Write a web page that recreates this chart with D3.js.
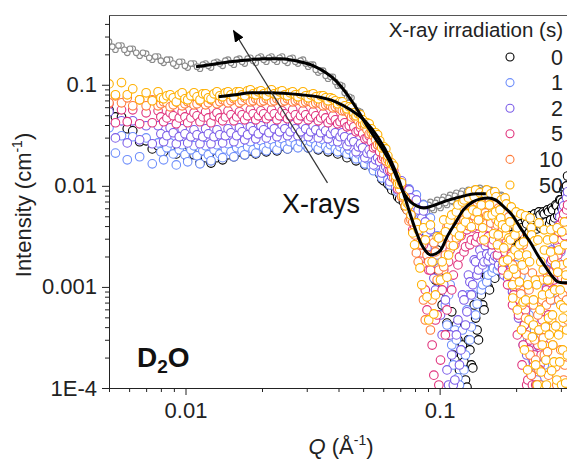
<!DOCTYPE html>
<html>
<head>
<meta charset="utf-8">
<script src="https://cdnjs.cloudflare.com/ajax/libs/d3/7.8.5/d3.min.js"></script>
<style>
  html, body { margin: 0; padding: 0; background: #fff; }
  svg { display: block; font-family: "Liberation Sans", Arial, sans-serif; }
</style>
</head>
<body>
<svg id="chart" width="567" height="461"></svg>
<script>
(function () {
  'use strict';

  // scattering vector Q (1/A): main grid, in-between grid, extra high-Q grid
  var q = [
    0.0050, 0.0053, 0.0056, 0.0059, 0.0062, 0.0066, 0.0070, 0.0074, 0.0078, 0.0082,
    0.0087, 0.0092, 0.0097, 0.0102, 0.0108, 0.0114, 0.0120, 0.0126, 0.0133, 0.0140,
    0.0147, 0.0155, 0.0163, 0.0171, 0.0180, 0.0189, 0.0198, 0.0208, 0.0218, 0.0229,
    0.0240, 0.0252, 0.0264, 0.0277, 0.0290, 0.0304, 0.0318, 0.0333, 0.0348, 0.0364,
    0.0380, 0.0397, 0.0414, 0.0432, 0.0450, 0.0469, 0.0488, 0.0508, 0.0528, 0.0549,
    0.0570, 0.0592, 0.0614, 0.0637, 0.0660, 0.0684, 0.0708, 0.0733, 0.0758, 0.0784,
    0.0810, 0.0837, 0.0864, 0.0892, 0.0920, 0.0949, 0.0978, 0.1008, 0.1038, 0.1069,
    0.1100, 0.1132, 0.1164, 0.1197, 0.1230, 0.1264, 0.1298, 0.1333, 0.1368, 0.1404,
    0.1440, 0.1477, 0.1514, 0.1552, 0.1590, 0.1629, 0.1668, 0.1708, 0.1748, 0.1789,
    0.1830, 0.1872, 0.1914, 0.1957, 0.2000, 0.2044, 0.2088, 0.2133, 0.2178, 0.2224,
    0.2270, 0.2317, 0.2364, 0.2412, 0.2460, 0.2509, 0.2558, 0.2608, 0.2658, 0.2709,
    0.2760, 0.2812, 0.2864, 0.2917, 0.2970, 0.3024, 0.3078, 0.3133, 0.3188
  ];
  var qMid = [
    0.00515, 0.00545, 0.00575, 0.00605, 0.0064, 0.0068, 0.0072, 0.0076, 0.0080, 0.00845,
    0.00895, 0.00945, 0.00995, 0.0105, 0.0111, 0.0117, 0.0123, 0.01295, 0.01365, 0.01435,
    0.0151, 0.0159, 0.0167, 0.01755, 0.01845, 0.01935, 0.0203, 0.0213, 0.02235, 0.02345,
    0.0246, 0.0258, 0.02705, 0.02835, 0.0297, 0.0311, 0.03255, 0.03405, 0.0356, 0.0372,
    0.03885, 0.04055, 0.0423, 0.0441, 0.04595, 0.04785, 0.0498, 0.0518, 0.05385, 0.05595,
    0.0581, 0.0603, 0.06255, 0.06485, 0.0672, 0.0696, 0.07205, 0.07455, 0.0771, 0.0797,
    0.08235, 0.08505, 0.0878, 0.0906, 0.09345, 0.09635, 0.0993, 0.1023, 0.10535, 0.10845,
    0.1116, 0.1148, 0.11805, 0.12135, 0.1247, 0.1281, 0.13155, 0.13505, 0.1386, 0.1422,
    0.14585, 0.14955, 0.1533, 0.1571, 0.16095, 0.16485, 0.1688, 0.1728, 0.17685, 0.18095,
    0.1851, 0.1893, 0.19355, 0.19785, 0.2022, 0.2066, 0.21105, 0.21555, 0.2201, 0.2247,
    0.22935, 0.23405, 0.2388, 0.2436, 0.24845, 0.25335, 0.2583, 0.2633, 0.26835, 0.27345,
    0.2786, 0.2838, 0.28905, 0.29435, 0.2997, 0.3051, 0.31055, 0.31605
  ];
  var qHi = [
    0.166, 0.170, 0.174, 0.178, 0.182, 0.186, 0.190, 0.194, 0.198, 0.202,
    0.206, 0.210, 0.214, 0.218, 0.222, 0.226, 0.230, 0.234, 0.238, 0.242,
    0.246, 0.250, 0.254, 0.258, 0.262, 0.266, 0.270, 0.274, 0.278, 0.282,
    0.286, 0.290, 0.294, 0.298, 0.302, 0.306, 0.310, 0.314, 0.318
  ];

  // upper grey data set (not in legend)
  var iGray = [
    0.267, 0.222, 0.244, 0.207, 0.227, 0.194, 0.203, 0.177, 0.190, 0.165,
    0.177, 0.154, 0.169, 0.148, 0.162, 0.144, 0.162, 0.148, 0.169, 0.154,
    0.177, 0.158, 0.181, 0.162, 0.185, 0.165, 0.190, 0.169, 0.190, 0.169,
    0.190, 0.165, 0.185, 0.162, 0.177, 0.151, 0.158, 0.132, 0.138, 0.115,
    0.120, 0.0978, 0.0978, 0.0743, 0.0743, 0.0552, 0.0540, 0.0393, 0.0384, 0.0292,
    0.0298, 0.0222, 0.0217, 0.0161, 0.0147, 0.00997, 0.00997, 0.00710, 0.00778, 0.00591,
    0.00710, 0.00552, 0.00678, 0.00552, 0.00694, 0.00578, 0.00726, 0.00604, 0.00778, 0.00648,
    0.00814, 0.00694, 0.00852, 0.00726, 0.00892, 0.00743, 0.00912, 0.00778, 0.00933, 0.00796,
    0.00954, 0.00796, 0.00933, 0.00778, 0.00912, 0.00760, 0.00873, 0.00710, 0.00814, 0.00648, 0.00726
  ];
  var iGrayMid = [
    0.238, 0.244, 0.222, 0.227, 0.207, 0.207, 0.185, 0.190, 0.173, 0.177,
    0.162, 0.169, 0.154, 0.162, 0.151, 0.158, 0.154, 0.165, 0.162, 0.173,
    0.165, 0.177, 0.169, 0.181, 0.173, 0.185, 0.177, 0.185, 0.177, 0.185,
    0.173, 0.181, 0.169, 0.173, 0.162, 0.158, 0.141, 0.138, 0.123, 0.120,
    0.107, 0.100, 0.0833, 0.0760, 0.0619, 0.0552, 0.0450, 0.0393, 0.0327, 0.0298,
    0.0249, 0.0222, 0.0181, 0.0157, 0.0120, 0.00997, 0.00814, 0.00760, 0.00648, 0.00678,
    0.00591, 0.00648, 0.00591, 0.00648, 0.00604, 0.00678, 0.00634, 0.00726, 0.00678, 0.00760,
    0.00710, 0.00796, 0.00743, 0.00833, 0.00760, 0.00873, 0.00796, 0.00892, 0.00814, 0.00912,
    0.00833, 0.00912, 0.00814, 0.00892, 0.00796, 0.00852, 0.00743, 0.00796, 0.00694, 0.00710
  ];

  // irradiation 0 s
  var i0 = [
    0.0565, 0.0481, 0.0481, 0.0367, 0.0350, 0.0273, 0.0279, 0.0232, 0.0249, 0.0217,
    0.0238, 0.0207, 0.0222, 0.0190, 0.0203, 0.0168, 0.0190, 0.0168, 0.0190, 0.0181,
    0.0203, 0.0194, 0.0217, 0.0203, 0.0222, 0.0207, 0.0232, 0.0217, 0.0243, 0.0222,
    0.0249, 0.0232, 0.0261, 0.0243, 0.0266, 0.0238, 0.0255, 0.0227, 0.0243, 0.0217,
    0.0232, 0.0207, 0.0217, 0.0190, 0.0203, 0.0177, 0.0185, 0.0161, 0.0168, 0.0144,
    0.0150, 0.0117, 0.0120, 0.00997, 0.00997, 0.00778, 0.00852, 0.00619, 0.00694, 0.00471,
    0.00552, 0.00342, 0.00430, 0.00227, 0.00327, 0.00150, 0.00232, 0.000934, 0.00165, 0.000439,
    0.000934, 0.000212, 0.000420, 0.000151, 0.000266, 0.000120, 0.000299, 0.000169, 0.000663, 0.000375,
    0.00117, 0.000663, 0.00147, 0.00100, 0.00193, 0.00134, 0.00222, 0.00158, 0.00249, 0.00177,
    0.00285, 0.00202, 0.00327, 0.00232, 0.00375, 0.00261, 0.00420, 0.00292, 0.00460, 0.00327,
    0.00505, 0.00359, 0.00528, 0.00375, 0.00552, 0.00384, 0.00552, 0.00402, 0.00578, 0.00420,
    0.00604, 0.00440, 0.00648, 0.00505, 0.00726, 0.00604, 0.00912, 0.00833, 0.0125
  ];
  var i0Mid = [
    null, null, null, null, null, null, null, null, null, null,
    null, null, null, null, null, null, null, null, null, null,
    null, null, null, null, null, null, null, null, null, null,
    null, null, null, null, null, null, null, null, null, null,
    null, null, null, null, null, null, null, null, null, null,
    0.0131, 0.0112, 0.0104, 0.00912, 0.00873, 0.00743, 0.00694, 0.00578, 0.00552, 0.00411,
    0.00440, 0.00292, 0.00305, 0.00185, 0.00207, 0.00117, 0.00140, 0.000663, 0.000893, 0.000335,
    0.000567, 0.000189, 0.000299, 0.000107, 0.000181, 0.000102, 0.000238, 0.000158, 0.000492, 0.000299,
    0.000833, 0.000592, 0.00128, 0.000934, 0.00169, 0.00122, 0.00202, 0.00147, 0.00222, 0.00177,
    0.00255, 0.00202, 0.00292, 0.00243, 0.00335, 0.00267, 0.00384, 0.00305, 0.00420, 0.00342,
    0.00460, 0.00384, 0.00482, 0.00402, 0.00516, 0.00411, 0.00528, 0.00440, 0.00552, 0.00460,
    0.00578, 0.00482, 0.00634, 0.00552, 0.00726, 0.00694, 0.00954, 0.00997
  ];

  // 1 s
  var i1 = [
    0.0375, 0.0211, 0.0313, 0.0181, 0.0306, 0.0194, 0.0298, 0.0165, 0.0266, 0.0181,
    0.0266, 0.0161, 0.0255, 0.0173, 0.0249, 0.0165, 0.0249, 0.0177, 0.0255, 0.0190,
    0.0261, 0.0194, 0.0261, 0.0203, 0.0273, 0.0211, 0.0279, 0.0222, 0.0285, 0.0227,
    0.0292, 0.0232, 0.0298, 0.0238, 0.0298, 0.0238, 0.0292, 0.0232, 0.0285, 0.0227,
    0.0273, 0.0217, 0.0261, 0.0207, 0.0243, 0.0185, 0.0217, 0.0165, 0.0190, 0.0141,
    0.0161, 0.0120, 0.0134, 0.0102, 0.0117, 0.00873, 0.0104, 0.00760, 0.00933, 0.00619,
    0.00814, 0.00482, 0.00648, 0.00342, 0.00482, 0.00217, 0.00320, 0.00117, 0.00185, 0.000420,
    0.00105, 0.000169, 0.000299, 0.000107, 0.000375, 0.000212, 0.000833, 0.000402, 0.00125, 0.000678,
    0.00165, 0.00105, 0.00193, 0.00131, 0.00217, 0.00154, 0.00227, 0.00161, 0.00237, 0.00154,
    0.00222, 0.00128, 0.00202, 0.00105, 0.00165, 0.000777, 0.00128, 0.000492, 0.000934, 0.000299,
    0.000663, 0.000189, 0.000375, 0.000107, 0.000228, 0.000107, 0.000375, 0.000212, 0.000743, 0.000471,
    0.00131, 0.000934, 0.00243, 0.00177, 0.00367, 0.00279, 0.00505, 0.00393, 0.00694
  ];
  var i1Mid = [
    null, null, null, null, null, null, null, null, 0.0217, 0.0238,
    0.0207, 0.0227, 0.0203, 0.0227, 0.0198, 0.0222, 0.0203, 0.0227, 0.0207, 0.0232,
    0.0217, 0.0238, 0.0222, 0.0243, 0.0227, 0.0255, 0.0238, 0.0261, 0.0243, 0.0266,
    0.0249, 0.0273, 0.0255, 0.0273, 0.0255, 0.0273, 0.0249, 0.0266, 0.0243, 0.0255,
    0.0232, 0.0243, 0.0222, 0.0227, 0.0203, 0.0207, 0.0181, 0.0185, 0.0157, 0.0157,
    0.0134, 0.0134, 0.0115, 0.0115, 0.00975, 0.00997, 0.00852, 0.00873, 0.00726, 0.00743,
    0.00604, 0.00604, 0.00460, 0.00440, 0.00232, 0.00292, 0.00147, 0.00177, 0.000663, 0.000833,
    0.000266, 0.000375, 0.000126, 0.000238, 0.000151, 0.000592, 0.000299, 0.000833, 0.000528, 0.00112,
    0.000934, 0.00154, 0.00112, 0.00177, 0.00140, 0.00193, 0.00147, 0.00202, 0.00169, 0.00193,
    0.00147, 0.00177, 0.00117, 0.00140, 0.000893, 0.00105, 0.000592, 0.000710, 0.000375, 0.000528,
    0.000238, 0.000313, 0.000134, 0.000181, 0.000102, 0.000266, 0.000169, 0.000450, 0.000335, 0.000893,
    0.000743, 0.00177, 0.00140, 0.00279, 0.00222, 0.00440, 0.00351, 0.00604
  ];

  // 2 s
  var i2 = [
    0.0540, 0.0298, 0.0440, 0.0266, 0.0440, 0.0285, 0.0393, 0.0261, 0.0393, 0.0273,
    0.0375, 0.0261, 0.0367, 0.0266, 0.0358, 0.0261, 0.0367, 0.0261, 0.0358, 0.0266,
    0.0367, 0.0273, 0.0375, 0.0285, 0.0384, 0.0292, 0.0393, 0.0298, 0.0402, 0.0306,
    0.0402, 0.0313, 0.0402, 0.0313, 0.0402, 0.0306, 0.0393, 0.0298, 0.0384, 0.0292,
    0.0367, 0.0273, 0.0335, 0.0249, 0.0298, 0.0217, 0.0261, 0.0190, 0.0227, 0.0161,
    0.0190, 0.0134, 0.0154, 0.0110, 0.0128, 0.00912, 0.0112, 0.00743, 0.00912, 0.00565,
    0.00726, 0.00411, 0.00565, 0.00243, 0.00367, 0.00122, 0.00207, 0.000528, 0.00105, 0.000151,
    0.000335, 0.000107, 0.000335, 0.000169, 0.000833, 0.000420, 0.00131, 0.000833, 0.00185, 0.00131,
    0.00232, 0.00165, 0.00255, 0.00181, 0.00267, 0.00185, 0.00261, 0.00165, 0.00232, 0.00131,
    0.00202, 0.00105, 0.00154, 0.000694, 0.00122, 0.000492, 0.000777, 0.000266, 0.000528, 0.000151,
    0.000299, 0.000107, 0.000212, 0.000120, 0.000420, 0.000238, 0.000743, 0.000471, 0.00147, 0.00100,
    0.00232, 0.00177, 0.00367, 0.00267, 0.00493, 0.00384, 0.00634, 0.00505, 0.00873
  ];
  var i2Mid = [
    null, null, null, null, null, null, null, null, 0.0327, 0.0313,
    0.0335, 0.0306, 0.0327, 0.0306, 0.0320, 0.0306, 0.0327, 0.0306, 0.0320, 0.0313,
    0.0335, 0.0313, 0.0342, 0.0320, 0.0350, 0.0327, 0.0358, 0.0335, 0.0367, 0.0342,
    0.0367, 0.0342, 0.0367, 0.0342, 0.0367, 0.0342, 0.0358, 0.0335, 0.0350, 0.0327,
    0.0335, 0.0306, 0.0306, 0.0273, 0.0273, 0.0243, 0.0238, 0.0211, 0.0207, 0.0181,
    0.0173, 0.0150, 0.0141, 0.0123, 0.0115, 0.00997, 0.00954, 0.00833, 0.00760, 0.00648,
    0.00578, 0.00482, 0.00440, 0.00207, 0.00292, 0.000934, 0.00154, 0.000335, 0.000743, 0.000107,
    0.000212, 0.000120, 0.000471, 0.000238, 0.000743, 0.000567, 0.00112, 0.00105, 0.00177, 0.00147,
    0.00202, 0.00177, 0.00212, 0.00202, 0.00222, 0.00202, 0.00193, 0.00193, 0.00161, 0.00177,
    0.00122, 0.00131, 0.000893, 0.000934, 0.000592, 0.000663, 0.000375, 0.000420, 0.000212, 0.000266,
    0.000126, 0.000169, 0.000102, 0.000266, 0.000169, 0.000528, 0.000375, 0.000977, 0.000833, 0.00177,
    0.00140, 0.00279, 0.00222, 0.00411, 0.00320, 0.00578, 0.00440, 0.00760
  ];

  // 5 s
  var i5 = [
    0.0648, 0.0421, 0.0565, 0.0431, 0.0565, 0.0411, 0.0528, 0.0421, 0.0552, 0.0431,
    0.0528, 0.0411, 0.0540, 0.0421, 0.0528, 0.0431, 0.0540, 0.0421, 0.0528, 0.0440,
    0.0552, 0.0440, 0.0540, 0.0450, 0.0565, 0.0450, 0.0552, 0.0461, 0.0565, 0.0450,
    0.0552, 0.0461, 0.0565, 0.0450, 0.0552, 0.0450, 0.0540, 0.0440, 0.0516, 0.0421,
    0.0493, 0.0411, 0.0471, 0.0384, 0.0431, 0.0342, 0.0375, 0.0292, 0.0313, 0.0238,
    0.0255, 0.0185, 0.0190, 0.0141, 0.0141, 0.00933, 0.0102, 0.00634, 0.00663, 0.00367,
    0.00420, 0.00185, 0.00261, 0.000592, 0.00147, 0.000134, 0.000528, 0.000189, 0.00147, 0.000592,
    0.00232, 0.00131, 0.00292, 0.00198, 0.00351, 0.00249, 0.00402, 0.00292, 0.00430, 0.00313,
    0.00450, 0.00327, 0.00450, 0.00313, 0.00430, 0.00292, 0.00384, 0.00243, 0.00351, 0.00185,
    0.00279, 0.00137, 0.00212, 0.000833, 0.00147, 0.000528, 0.000934, 0.000266, 0.000592, 0.000120,
    0.000299, 0.000107, 0.000212, 0.000107, 0.000375, 0.000212, 0.000743, 0.000375, 0.00131, 0.000743,
    0.00185, 0.00117, 0.00292, 0.00207, 0.00411, 0.00292, 0.00528, 0.00367, 0.00648
  ];
  var i5Mid = [
    null, null, null, null, null, null, null, null, 0.0481, 0.0470,
    0.0493, 0.0470, 0.0481, 0.0470, 0.0493, 0.0481, 0.0470, 0.0493, 0.0470, 0.0481,
    0.0504, 0.0481, 0.0504, 0.0493, 0.0516, 0.0493, 0.0516, 0.0493, 0.0516, 0.0493,
    0.0516, 0.0493, 0.0504, 0.0493, 0.0504, 0.0481, 0.0493, 0.0470, 0.0470, 0.0450,
    0.0450, 0.0431, 0.0421, 0.0393, 0.0384, 0.0350, 0.0327, 0.0298, 0.0273, 0.0243,
    0.0217, 0.0190, 0.0165, 0.0137, 0.0115, 0.00954, 0.00796, 0.00648, 0.00516, 0.00402,
    0.00305, 0.00217, 0.000934, 0.00147, 0.000266, 0.000471, 0.000107, 0.000934, 0.000335, 0.00177,
    0.000934, 0.00261, 0.00165, 0.00320, 0.00222, 0.00367, 0.00261, 0.00384, 0.00279, 0.00402,
    0.00292, 0.00402, 0.00279, 0.00384, 0.00261, 0.00342, 0.00207, 0.00292, 0.00147, 0.00222,
    0.00105, 0.00177, 0.000663, 0.00117, 0.000335, 0.000743, 0.000169, 0.000420, 0.000107, 0.000238,
    0.000134, 0.000189, 0.000107, 0.000266, 0.000151, 0.000471, 0.000266, 0.000934, 0.000528, 0.00140,
    0.000934, 0.00222, 0.00154, 0.00351, 0.00232, 0.00460, 0.00320, 0.00578
  ];

  // 10 s
  var i10 = [
    0.0663, 0.0778, 0.0663, 0.0743, 0.0619, 0.0710, 0.0619, 0.0710, 0.0619, 0.0678,
    0.0605, 0.0678, 0.0619, 0.0678, 0.0633, 0.0694, 0.0633, 0.0710, 0.0648, 0.0710,
    0.0663, 0.0726, 0.0663, 0.0743, 0.0678, 0.0726, 0.0678, 0.0726, 0.0678, 0.0726,
    0.0678, 0.0726, 0.0678, 0.0710, 0.0663, 0.0694, 0.0648, 0.0678, 0.0619, 0.0648,
    0.0591, 0.0619, 0.0552, 0.0552, 0.0481, 0.0470, 0.0402, 0.0384, 0.0327, 0.0313,
    0.0255, 0.0238, 0.0177, 0.0173, 0.0120, 0.0112, 0.00778, 0.00760, 0.00450, 0.00440,
    0.00217, 0.00273, 0.000743, 0.00207, 0.000375, 0.00273, 0.00117, 0.00313, 0.00158, 0.00393,
    0.00261, 0.00493, 0.00305, 0.00578, 0.00411, 0.00648, 0.00430, 0.00678, 0.00505, 0.00694,
    0.00471, 0.00694, 0.00540, 0.00678, 0.00430, 0.00663, 0.00460, 0.00604, 0.00320, 0.00552,
    0.00327, 0.00493, 0.00202, 0.00420, 0.00134, 0.00342, 0.000853, 0.00261, 0.000492, 0.00181,
    0.000212, 0.00137, 0.000299, 0.00117, 0.000151, 0.00117, 0.000313, 0.00147, 0.000228, 0.00117,
    0.000471, 0.00193, 0.000162, 0.00144, 0.000375, 0.00165, 0.000120, 0.00117, 0.000471
  ];
  var i10Mid = [
    null, null, null, null, null, null, null, null, 0.0648, 0.0663,
    0.0633, 0.0663, 0.0648, 0.0663, 0.0648, 0.0678, 0.0663, 0.0694, 0.0678, 0.0694,
    0.0694, 0.0710, 0.0694, 0.0710, 0.0694, 0.0710, 0.0694, 0.0710, 0.0694, 0.0710,
    0.0694, 0.0710, 0.0694, 0.0694, 0.0678, 0.0678, 0.0663, 0.0648, 0.0633, 0.0619,
    0.0605, 0.0578, 0.0552, 0.0516, 0.0493, 0.0440, 0.0411, 0.0358, 0.0335, 0.0285,
    0.0255, 0.0207, 0.0181, 0.0144, 0.0115, 0.00933, 0.00760, 0.00578, 0.00460, 0.00327,
    0.00177, 0.00261, 0.000471, 0.00177, 0.000743, 0.00222, 0.00147, 0.00320, 0.00207, 0.00411,
    0.00305, 0.00516, 0.00384, 0.00604, 0.00460, 0.00663, 0.00528, 0.00710, 0.00552, 0.00726,
    0.00578, 0.00726, 0.00505, 0.00694, 0.00540, 0.00648, 0.00411, 0.00578, 0.00384, 0.00528,
    0.00261, 0.00440, 0.00165, 0.00320, 0.00105, 0.00222, 0.000663, 0.00147, 0.000335, 0.000934,
    0.000134, 0.000663, 0.000189, 0.000528, 0.000107, 0.000743, 0.000212, 0.000663, 0.000134, 0.000743,
    0.000266, 0.000934, 0.000107, 0.000743, 0.000238, 0.000833, 0.000169, 0.000743
  ];

  // 50 s
  var i50 = [
    0.102, 0.0796, 0.105, 0.0796, 0.0912, 0.0710, 0.0833, 0.0694, 0.0852, 0.0726,
    0.0796, 0.0678, 0.0833, 0.0710, 0.0833, 0.0710, 0.0814, 0.0726, 0.0852, 0.0760,
    0.0852, 0.0760, 0.0852, 0.0778, 0.0892, 0.0796, 0.0872, 0.0778, 0.0892, 0.0796,
    0.0872, 0.0778, 0.0852, 0.0760, 0.0852, 0.0743, 0.0814, 0.0726, 0.0778, 0.0694,
    0.0726, 0.0648, 0.0678, 0.0578, 0.0591, 0.0493, 0.0504, 0.0411, 0.0411, 0.0335,
    0.0320, 0.0238, 0.0232, 0.0168, 0.0157, 0.0104, 0.0107, 0.00634, 0.00648, 0.00342,
    0.00430, 0.00154, 0.00384, 0.000797, 0.00411, 0.000540, 0.00313, 0.00117, 0.00460, 0.00125,
    0.00460, 0.00255, 0.00552, 0.00320, 0.00694, 0.00440, 0.00760, 0.00393, 0.00778, 0.00552,
    0.00852, 0.00384, 0.00833, 0.00505, 0.00833, 0.00335, 0.00778, 0.00440, 0.00726, 0.00243,
    0.00663, 0.00305, 0.00619, 0.00150, 0.00552, 0.00207, 0.00528, 0.000710, 0.00505, 0.00105,
    0.00482, 0.000320, 0.00285, 0.00105, 0.00430, 0.000144, 0.00147, 0.000402, 0.00292, 0.000853,
    0.000148, 0.00299, 0.000411, 0.00140, 0.000181, 0.00351, 0.000619, 0.000112, 0.00173
  ];
  var i50Mid = [
    null, null, null, null, null, null, null, null, 0.0743, 0.0778,
    0.0743, 0.0796, 0.0726, 0.0778, 0.0760, 0.0814, 0.0743, 0.0814, 0.0778, 0.0833,
    0.0796, 0.0852, 0.0796, 0.0872, 0.0814, 0.0852, 0.0814, 0.0852, 0.0814, 0.0852,
    0.0796, 0.0833, 0.0796, 0.0814, 0.0778, 0.0796, 0.0760, 0.0778, 0.0743, 0.0743,
    0.0694, 0.0678, 0.0619, 0.0605, 0.0528, 0.0516, 0.0450, 0.0421, 0.0367, 0.0335,
    0.0279, 0.0243, 0.0198, 0.0168, 0.0125, 0.0104, 0.00796, 0.00678, 0.00516, 0.00261,
    0.00367, 0.00105, 0.00292, 0.000471, 0.00177, 0.000833, 0.00305, 0.00177, 0.00351, 0.00207,
    0.00516, 0.00351, 0.00648, 0.00384, 0.00726, 0.00528, 0.00873, 0.00578, 0.00912, 0.00460,
    0.00648, 0.00292, 0.00912, 0.00648, 0.00516, 0.00873, 0.00261, 0.00578, 0.00411, 0.00760,
    0.00185, 0.00440, 0.00105, 0.00327, 0.000592, 0.00261, 0.00165, 0.000238, 0.00207, 0.000471,
    0.00384, 0.000743, 0.000169, 0.00292, 0.000592, 0.000266, 0.00232, 0.000107, 0.000492, 0.00222,
    0.000266, 0.000934, 0.000120, 0.00232, 0.000663, 0.000238, 0.00261, 0.000375
  ];
  var i50Hi = [
    0.00552, 0.00327, 0.00482, 0.00177, 0.00384, 0.00131, 0.00292, 0.000777, 0.00232, 0.00384,
    0.00112, 0.000375, 0.00279, 0.000743, 0.000151, 0.00177, 0.00327, 0.000420, 0.00117, 0.000107,
    0.000375, 0.00177, 0.000833, 0.00367, 0.000189, 0.00117, 0.000335, 0.00367, 0.000528, 0.000181,
    0.00165, 0.00384, 0.000335, 0.000934, 0.000107, 0.000492, 0.00440, 0.00131, 0.000212
  ];

  // model fits
  var fitGrayQ = [0.0110, 0.0125, 0.0150, 0.0180, 0.0203, 0.0237, 0.0271, 0.0319, 0.0356, 0.0390,
    0.0434, 0.0475, 0.0521, 0.0560, 0.0602, 0.0641, 0.0684, 0.0722, 0.0769, 0.0812,
    0.0866, 0.0938, 0.106, 0.121, 0.139, 0.152];
  var fitGrayI = [0.151, 0.158, 0.169, 0.177, 0.181, 0.181, 0.173, 0.154, 0.132, 0.110,
    0.0796, 0.0565, 0.0384, 0.0292, 0.0222, 0.0168, 0.0115, 0.00852, 0.00694, 0.00634,
    0.00604, 0.00634, 0.00710, 0.00778, 0.00833, 0.00833];

  var fit50Q = [0.0135, 0.0157, 0.0180, 0.0216, 0.0284, 0.0331, 0.0390, 0.0446, 0.0512, 0.0570,
    0.0641, 0.0691, 0.0735, 0.0791, 0.0842, 0.0881, 0.0922, 0.0965, 0.101, 0.107,
    0.116, 0.124, 0.135, 0.145, 0.155, 0.166, 0.179, 0.194, 0.208, 0.228,
    0.243, 0.261, 0.279, 0.292, 0.305, 0.319];
  var fit50I = [0.0760, 0.0796, 0.0833, 0.0833, 0.0796, 0.0760, 0.0678, 0.0565, 0.0431, 0.0306,
    0.0181, 0.0115, 0.00726, 0.00411, 0.00273, 0.00227, 0.00207, 0.00212, 0.00232, 0.00313,
    0.00440, 0.00578, 0.00694, 0.00743, 0.00760, 0.00726, 0.00619, 0.00505, 0.00384, 0.00273,
    0.00207, 0.00158, 0.00125, 0.00112, 0.00110, 0.00110];

  var legendLabels = ['0', '1', '2', '5', '10', '50'];
  var xTicks = [0.01, 0.1];
  var xTickLabels = ['0.01', '0.1'];
  var yTicks = [1e-4, 1e-3, 1e-2, 1e-1];
  var yTickLabels = ['1E-4', '0.001', '0.01', '0.1'];

  // annotation anchors in data space
  var arrowFrom = [0.0362, 0.0107];
  var arrowTo = [0.01545, 0.343];

  var seriesColors = ['#000000', '#6e8efb', '#7b5ce8', '#e0327c', '#ff7b3a', '#ffb000'];
  var seriesMain = [i0, i1, i2, i5, i10, i50];
  var seriesMid = [i0Mid, i1Mid, i2Mid, i5Mid, i10Mid, i50Mid];

  var svg = d3.select('#chart'),
    left = 109, top = 15, right = 568, bottom = 388;

  var x = d3.scaleLog().domain([0.005, 0.32]).range([left, right]);
  var y = d3.scaleLog().domain([1e-4, 0.49]).range([bottom, top]);

  var defs = svg.append('defs');
  defs.append('clipPath').attr('id', 'plotclip')
    .append('rect')
    .attr('x', left).attr('y', top)
    .attr('width', right - left).attr('height', bottom - top);

  defs.append('marker')
    .attr('id', 'arrowhead')
    .attr('viewBox', '0 0 12 10')
    .attr('refX', 11).attr('refY', 5)
    .attr('markerWidth', 12).attr('markerHeight', 10)
    .attr('markerUnits', 'userSpaceOnUse')
    .attr('orient', 'auto')
    .append('path')
    .attr('d', 'M0,0 L12,5 L0,10 Z')
    .attr('fill', '#000');

  var plot = svg.append('g').attr('clip-path', 'url(#plotclip)');

  function points(qs, vals) {
    return vals.map(function (v, i) { return [qs[i], v]; })
      .filter(function (d) { return d[1] != null; });
  }

  function drawSeries(data, color, r) {
    plot.append('g').selectAll('circle')
      .data(data)
      .enter().append('circle')
      .attr('cx', function (d) { return x(d[0]); })
      .attr('cy', function (d) { return y(d[1]); })
      .attr('r', r)
      .attr('fill', '#fff')
      .attr('stroke', color)
      .attr('stroke-width', 1.1);
  }

  drawSeries(points(q, iGray).concat(points(qMid, iGrayMid)), '#8a8a8a', 2.8);

  seriesMain.forEach(function (vals, k) {
    var data = d3.merge([points(q, vals), points(qMid, seriesMid[k])]);
    if (k === seriesMain.length - 1) {
      data = data.concat(points(qHi, i50Hi));
    }
    data.sort(function (a, b) { return a[0] - b[0]; });
    drawSeries(data, seriesColors[k], 4.3);
  });

  var line = d3.line()
    .x(function (d) { return x(d[0]); })
    .y(function (d) { return y(d[1]); })
    .curve(d3.curveMonotoneX);

  [[fitGrayQ, fitGrayI], [fit50Q, fit50I]].forEach(function (f) {
    plot.append('path')
      .datum(d3.zip(f[0], f[1]))
      .attr('fill', 'none')
      .attr('stroke', '#000')
      .attr('stroke-width', 3)
      .attr('d', line);
  });

  // axes
  var minorX = x.ticks().filter(function (v) { return xTicks.indexOf(v) < 0; });
  var minorY = y.ticks().filter(function (v) {
    return yTicks.every(function (t) { return Math.abs(t - v) / t > 1e-6; });
  });

  var gx = svg.append('g').attr('transform', 'translate(0,' + bottom + ')');
  gx.call(d3.axisBottom(x).tickValues(xTicks).tickSize(7).tickPadding(7).tickSizeOuter(0)
    .tickFormat(function (d, i) { return xTickLabels[i]; }));
  gx.append('g').call(d3.axisBottom(x).tickValues(minorX).tickSize(4).tickFormat(''))
    .select('.domain').remove();

  var gy = svg.append('g').attr('transform', 'translate(' + left + ',0)');
  gy.call(d3.axisLeft(y).tickValues(yTicks).tickSize(7).tickPadding(5).tickSizeOuter(0)
    .tickFormat(function (d, i) { return yTickLabels[i]; }));
  gy.append('g').call(d3.axisLeft(y).tickValues(minorY).tickSize(4).tickFormat(''))
    .select('.domain').remove();

  svg.selectAll('.domain, .tick line').attr('stroke', '#222').attr('stroke-width', 1);
  svg.selectAll('.tick text')
    .attr('font-family', '"Liberation Sans", Arial, sans-serif')
    .attr('font-size', 22)
    .attr('fill', '#222');

  svg.append('line')
    .attr('x1', left).attr('x2', right)
    .attr('y1', top + 0.5).attr('y2', top + 0.5)
    .attr('stroke', '#555').attr('stroke-width', 1);

  // axis titles
  var xt = svg.append('text')
    .attr('x', 341).attr('y', 454)
    .attr('text-anchor', 'middle')
    .attr('font-size', 22).attr('fill', '#222');
  xt.append('tspan').attr('font-style', 'italic').text('Q');
  xt.append('tspan').text(' (\u00C5');
  xt.append('tspan').attr('font-size', 14).attr('dy', -9).text('-1');
  xt.append('tspan').attr('dy', 9).text(')');

  var yt = svg.append('text')
    .attr('transform', 'translate(31,205) rotate(-90)')
    .attr('text-anchor', 'middle')
    .attr('font-size', 22).attr('fill', '#222');
  yt.append('tspan').text('Intensity (cm');
  yt.append('tspan').attr('font-size', 14).attr('dy', -9).text('-1');
  yt.append('tspan').attr('dy', 9).text(')');

  // legend
  svg.append('text')
    .attr('x', 563).attr('y', 37)
    .attr('text-anchor', 'end')
    .attr('font-size', 20.5).attr('fill', '#222')
    .text('X-ray irradiation (s)');

  var leg = svg.append('g').selectAll('g')
    .data(legendLabels)
    .enter().append('g')
    .attr('transform', function (d, i) { return 'translate(0,' + (57 + i * 25.6) + ')'; });
  leg.append('circle')
    .attr('cx', 510).attr('cy', 0).attr('r', 4)
    .attr('fill', '#fff')
    .attr('stroke', function (d, i) { return seriesColors[i]; })
    .attr('stroke-width', 1.1);
  leg.append('text')
    .attr('x', 563).attr('y', 7.5)
    .attr('text-anchor', 'end')
    .attr('font-size', 21.5).attr('fill', '#222')
    .text(function (d) { return d; });

  // annotations
  svg.append('line')
    .attr('x1', x(arrowFrom[0])).attr('y1', y(arrowFrom[1]))
    .attr('x2', x(arrowTo[0])).attr('y2', y(arrowTo[1]))
    .attr('stroke', '#333').attr('stroke-width', 1.2)
    .attr('marker-end', 'url(#arrowhead)');

  svg.append('text')
    .attr('x', 282).attr('y', 213)
    .attr('font-size', 27).attr('fill', '#111')
    .text('X-rays');

  var d2o = svg.append('text')
    .attr('x', 137).attr('y', 367)
    .attr('font-size', 28).attr('font-weight', 'bold').attr('fill', '#111');
  d2o.append('tspan').text('D');
  d2o.append('tspan').attr('font-size', 19).attr('dy', 6).text('2');
  d2o.append('tspan').attr('dy', -6).text('O');
})();
</script>
</body>
</html>
